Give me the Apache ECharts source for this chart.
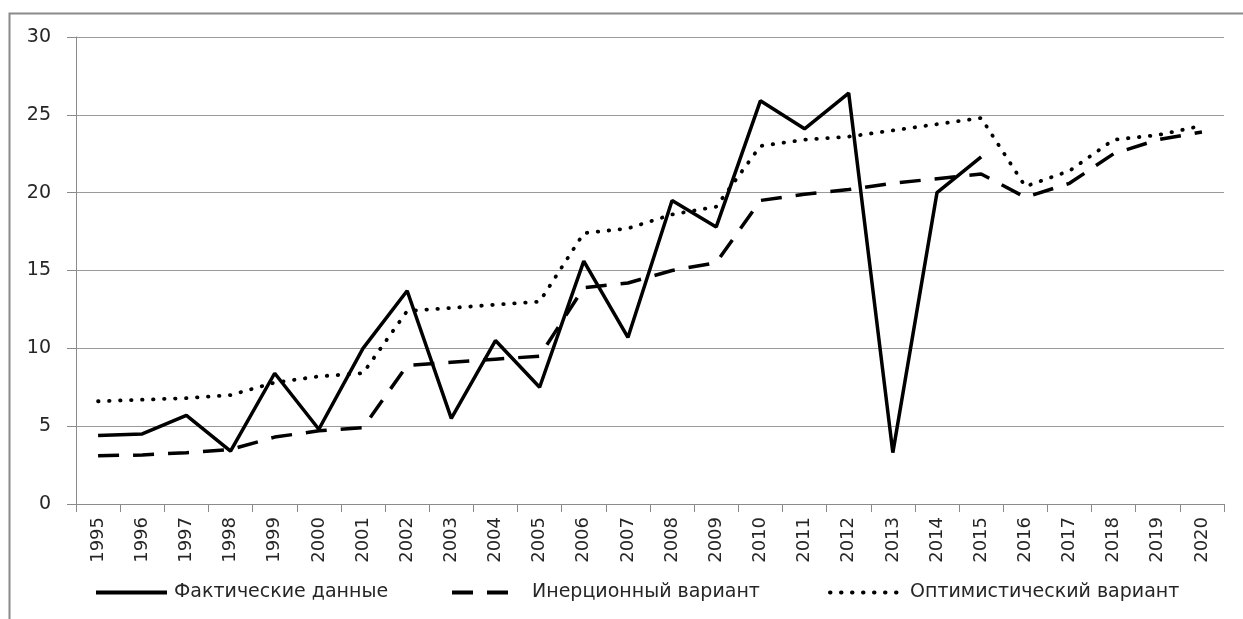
<!DOCTYPE html>
<html>
<head>
<meta charset="utf-8">
<script src="https://cdn.jsdelivr.net/npm/echarts@6/dist/echarts.min.js"></script>
<style>
  html, body { margin: 0; padding: 0; background: #fff; }
  #chart { width: 1243px; height: 619px; }
</style>
</head>
<body>
<div id="chart"></div>
<script>
var years = ['1995','1996','1997','1998','1999','2000','2001','2002','2003','2004','2005','2006','2007',
             '2008','2009','2010','2011','2012','2013','2014','2015','2016','2017','2018','2019','2020'];

// Фактические данные (ends in 2015)
var actual = [4.4, 4.5, 5.7, 3.4, 8.4, 4.8, 10.0, 13.7, 5.5, 10.5, 7.5, 15.6, 10.7,
              19.5, 17.8, 25.9, 24.1, 26.4, 3.3, 20.0, 22.3, null, null, null, null, null];

// Инерционный вариант
var inertial = [3.1, 3.15, 3.3, 3.5, 4.3, 4.7, 4.9, 8.9, 9.1, 9.3, 9.5, 13.9, 14.2,
                15.0, 15.5, 19.5, 19.9, 20.2, 20.6, 20.9, 21.2, 19.7, 20.6, 22.5, 23.4, 23.9];

// Оптимистический вариант
var optimistic = [6.6, 6.7, 6.8, 7.0, 7.8, 8.2, 8.4, 12.4, 12.6, 12.8, 13.0, 17.4, 17.7,
                  18.6, 19.1, 23.0, 23.4, 23.6, 24.0, 24.4, 24.8, 20.4, 21.4, 23.4, 23.7, 24.3];

var seriesNames = ['Фактические данные', 'Инерционный вариант', 'Оптимистический вариант'];
var yTicks = {min: 0, max: 30, interval: 5};

var chart = echarts.init(document.getElementById('chart'));
var font = '"DejaVu Sans", "Open Sans", sans-serif';
var textColor = '#262626';

// one small legend per series so each sits where it does in the original
function legendAt(name, left, w, gap) {
  return {
    top: 583,
    left: left,
    padding: 0,
    itemWidth: w,
    itemHeight: 20,
    itemGap: 0,
    itemStyle: {opacity: 0},
    lineStyle: {width: 4},
    textStyle: {fontSize: 19, color: textColor, fontFamily: font, padding: [0, 0, 0, gap]},
    data: [name]
  };
}

var option = {
  animation: false,
  textStyle: {fontFamily: font},
  graphic: [{
    type: 'rect',
    left: 7, top: 11,
    shape: {width: 1250, height: 640},
    style: {fill: 'none', stroke: '#8a8a8a', lineWidth: 2},
    silent: true
  }],
  grid: {left: 76, right: 19, top: 37, bottom: 115},
  legend: [
    legendAt(seriesNames[0], 94, 71, 2),
    legendAt(seriesNames[1], 450, 56, 19),
    legendAt(seriesNames[2], 828, 68, 7)
  ],
  xAxis: {
    type: 'category',
    data: years,
    boundaryGap: true,
    axisLine: {lineStyle: {color: '#8a8a8a', width: 1}},
    axisTick: {show: true, length: 8, lineStyle: {color: '#8a8a8a'}},
    axisLabel: {rotate: 90, margin: 13, fontSize: 18, color: textColor, interval: 0}
  },
  yAxis: {
    type: 'value',
    min: yTicks.min, max: yTicks.max, interval: yTicks.interval,
    axisLine: {show: true, lineStyle: {color: '#8a8a8a', width: 1}},
    axisTick: {show: true, length: 9, lineStyle: {color: '#8a8a8a'}},
    axisLabel: {margin: 25, fontSize: 19, color: textColor},
    splitLine: {lineStyle: {color: '#9a9a9a', width: 1}}
  },
  series: [
    {
      name: seriesNames[0],
      type: 'line',
      data: actual,
      showSymbol: false,
      symbol: 'none',
      connectNulls: false,
      lineStyle: {color: '#000', width: 3.5, type: 'solid'},
      itemStyle: {color: '#000'},
      z: 3
    },
    {
      name: seriesNames[1],
      type: 'line',
      data: inertial,
      showSymbol: false,
      symbol: 'none',
      lineStyle: {color: '#000', width: 3.5, type: [21, 14], cap: 'butt'},
      itemStyle: {color: '#000'},
      z: 2
    },
    {
      name: seriesNames[2],
      type: 'line',
      data: optimistic,
      showSymbol: false,
      symbol: 'none',
      lineStyle: {color: '#000', width: 3.8, type: [0.5, 10.5], cap: 'round'},
      itemStyle: {color: '#000'},
      z: 2
    }
  ]
};
chart.setOption(option);
</script>
</body>
</html>
